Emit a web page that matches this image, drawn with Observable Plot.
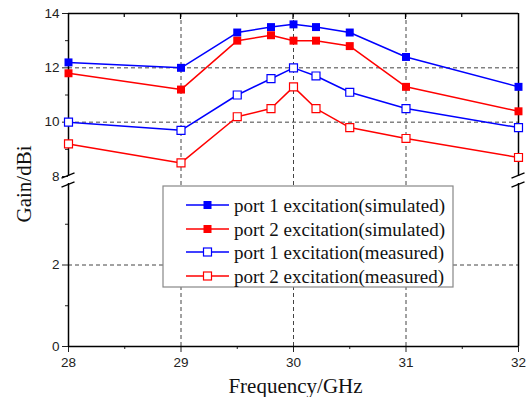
<!DOCTYPE html>
<html>
<head>
<meta charset="utf-8">
<script src="https://cdn.jsdelivr.net/npm/d3@7"></script>
<script src="https://cdn.jsdelivr.net/npm/@observablehq/plot@0.6"></script>
<style>
  html, body { margin: 0; padding: 0; background: #fff; }
  #chart { width: 531px; height: 397px; }
  #chart svg g[aria-label="y-axis tick label"],
  #chart svg g[aria-label="x-axis tick label"] { font-size: 13.5px; fill: #222; }
</style>
</head>
<body>
<div id="chart"></div>
<script>
// ---- data ----
const freq = [28, 29, 29.5, 29.8, 30, 30.2, 30.5, 31, 32];
const port1Sim  = [12.2, 12.0, 13.3, 13.5, 13.6, 13.5, 13.3, 12.4, 11.3];
const port2Sim  = [11.8, 11.2, 13.0, 13.2, 13.0, 13.0, 12.8, 11.3, 10.4];
const port1Meas = [10.0, 9.7, 11.0, 11.6, 12.0, 11.7, 11.1, 10.5, 9.8];
const port2Meas = [9.2, 8.5, 10.2, 10.5, 11.3, 10.5, 9.8, 9.4, 8.7];

const seriesNames = [
  "port 1 excitation(simulated)",
  "port 2 excitation(simulated)",
  "port 1 excitation(measured)",
  "port 2 excitation(measured)"
];
const seriesValues = [port1Sim, port2Sim, port1Meas, port2Meas];
const seriesColors = ["#0000ff", "#ff0000", "#0000ff", "#ff0000"];
const seriesFilled = [true, true, false, false];

const xTicks = [28, 29, 30, 31, 32];
const xMinorTicks = [28.5, 29.5, 30.5, 31.5];
const yTicks = [0, 2, 8, 10, 12, 14];
const yMinorTicks = [1, 3, 9, 11, 13];
const xGrid = [29, 30, 31];
const yGrid = [2, 10, 12];
// broken axis: lower segment 0..4, upper segment 8..14
const yBreakDomain = [0, 4, 8, 14];

const rows = [];
seriesNames.forEach((name, i) => {
  freq.forEach((f, j) => rows.push({series: name, idx: i, f, g: seriesValues[i][j]}));
});

const gridStyle = {stroke: "#444", strokeWidth: 1, strokeDasharray: "4,3"};

const decorations = (index, scales, values, dimensions) => {
  const g = d3.create("svg:g");
  const x = scales.x, y = scales.y;
  // top inward ticks
  for (const t of xMinorTicks) {
    g.append("line").attr("x1", x(t)).attr("x2", x(t))
      .attr("y1", y(14)).attr("y2", y(14) + 4).attr("stroke", "#000").attr("stroke-width", 1.2);
  }
  for (const t of xTicks.slice(1, -1)) {
    g.append("line").attr("x1", x(t)).attr("x2", x(t))
      .attr("y1", y(14)).attr("y2", y(14) + 6).attr("stroke", "#000").attr("stroke-width", 1.2);
  }
  // axis break marks
  const yTop = y(8), yBot = y(4);
  for (const xv of [28, 32]) {
    const cx = x(xv);
    for (const cy of [yTop - 0.5, yBot + 1.5]) {
      g.append("line")
        .attr("x1", cx - 6.5).attr("y1", cy + 2.6)
        .attr("x2", cx + 6.5).attr("y2", cy - 2.6)
        .attr("stroke", "#000").attr("stroke-width", 1.3);
    }
  }
  // legend
  const lx = 163, ly = 186, lw = 290, lh = 101;
  g.append("rect").attr("x", lx).attr("y", ly).attr("width", lw).attr("height", lh)
    .attr("fill", "#fff").attr("stroke", "#888").attr("stroke-width", 1.2);
  const rowY = [205, 229, 252, 276];
  seriesNames.forEach((name, i) => {
    const ry = rowY[i];
    g.append("line").attr("x1", 186).attr("x2", 229).attr("y1", ry).attr("y2", ry)
      .attr("stroke", seriesColors[i]).attr("stroke-width", 1.5);
    g.append("rect").attr("x", 207.5 - 4).attr("y", ry - 4).attr("width", 8).attr("height", 8)
      .attr("fill", seriesFilled[i] ? seriesColors[i] : "#fff")
      .attr("stroke", seriesColors[i]).attr("stroke-width", seriesFilled[i] ? 0 : 1.2);
    g.append("text").attr("x", 234).attr("y", ry).attr("dy", "0.35em")
      .attr("text-anchor", "start")
      .attr("font-family", "'Liberation Serif', 'Times New Roman', serif")
      .attr("font-size", 19).attr("fill", "#111").text(name);
  });
  return g.node();
};

const chart = Plot.plot({
  width: 531,
  height: 397,
  marginTop: 13,
  marginBottom: 51,
  marginLeft: 68,
  marginRight: 13,
  style: {background: "#fff", fontFamily: "'Liberation Sans', Arial, sans-serif", fontSize: "13.5px", color: "#222", overflow: "visible"},
  x: {domain: [28, 32]},
  y: {type: "linear", domain: yBreakDomain, range: [346, 183, 176, 13]},
  marks: [
    // grid
    Plot.ruleX(xGrid, {y1: 0, y2: 14, ...gridStyle}),
    Plot.ruleY(yGrid, {x1: 28, x2: 32, ...gridStyle}),
    // axes
    Plot.axisY({ticks: yTicks, tickSize: 6, tickPadding: 3, label: null, tickFormat: d => String(d)}),
    Plot.axisY({ticks: yMinorTicks, tickSize: 3, label: null, tickFormat: () => ""}),
    Plot.axisX({ticks: xTicks, tickSize: 6, tickPadding: 5, label: null, tickFormat: d => String(d)}),
    Plot.axisX({ticks: xMinorTicks, tickSize: 3, label: null, tickFormat: () => ""}),
    // frame (broken on left and right)
    Plot.ruleX([28, 32], {y1: 0, y2: 4, stroke: "#000", strokeWidth: 1.5}),
    Plot.ruleX([28, 32], {y1: 8, y2: 14, stroke: "#000", strokeWidth: 1.5}),
    Plot.ruleY([0, 14], {x1: 28, x2: 32, stroke: "#000", strokeWidth: 1.5}),
    // data
    Plot.line(rows, {x: "f", y: "g", z: "series", stroke: d => seriesColors[d.idx], strokeWidth: 1.5}),
    Plot.dot(rows, {x: "f", y: "g", symbol: "square", r: 4.5,
      fill: d => seriesFilled[d.idx] ? seriesColors[d.idx] : "#fff",
      stroke: d => seriesColors[d.idx], strokeWidth: d => seriesFilled[d.idx] ? 0 : 1.2}),
    decorations,
    // axis titles
    Plot.text(["Gain/dBi"], {frameAnchor: "left", dx: -44, dy: 4, rotate: -90, text: d => d,
      textAnchor: "middle", lineAnchor: "middle",
      fontFamily: "'Liberation Serif', 'Times New Roman', serif", fontSize: 21, fill: "#111"}),
    Plot.text(["Frequency/GHz"], {frameAnchor: "bottom", dy: 40, dx: 2, text: d => d,
      textAnchor: "middle", lineAnchor: "middle",
      fontFamily: "'Liberation Serif', 'Times New Roman', serif", fontSize: 21, fill: "#111"})
  ]
});
document.getElementById("chart").appendChild(chart);
</script>
</body>
</html>
